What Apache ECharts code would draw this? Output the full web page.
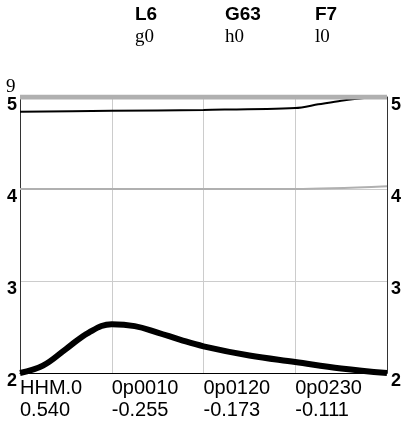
<!DOCTYPE html>
<html><head><meta charset="utf-8">
<script src="https://cdn.jsdelivr.net/npm/echarts@6/dist/echarts.min.js"></script>
<style>html,body{margin:0;padding:0;background:#fff}#c{width:406px;height:424px}</style>
</head><body><div id="c"></div>
<script>
var xTicks = [0, 1, 2, 3, 4];
var xTop = ['HHM.0', '0p0010', '0p0120', '0p0230', ''];
var xBottom = ['0.540', '-0.255', '-0.173', '-0.111', ''];
var legendNames = ['L6', 'G63', 'F7'];
var legendSubs = ['g0', 'h0', 'l0'];
var thickX = [0, 0.25, 0.5, 0.75, 1, 1.25, 1.5, 1.75, 2, 2.5, 3, 3.5, 4];
var thickBlack = [2.0, 2.08, 2.26, 2.44, 2.53, 2.51, 2.44, 2.36, 2.29, 2.19, 2.12, 2.05, 2.0];
var thinX = [0, 1, 2, 3, 3.25, 3.5, 3.75, 4];
var thinBlack = [4.84, 4.85, 4.86, 4.88, 4.92, 4.96, 4.99, 5.0];
var grayX = [0, 1, 2, 3, 4];
var grayLine = [4.0, 4.0, 4.0, 4.0, 4.03];
var topX = [0, 4];
var topGray = [5, 5];

function pairs(xs, v){ return xs.map(function(x,i){ return [x, v[i]]; }); }
var subMap = {};
legendNames.forEach(function(n,i){ subMap[n] = legendSubs[i]; });

var chart = echarts.init(document.getElementById('c'));
function yLabel(m){ return {margin:m, color:'#000', fontWeight:'bold', fontSize:18, lineHeight:16, fontFamily:'Liberation Sans, Arial', verticalAlign:'top'}; }
chart.setOption({
  animation:false,
  grid:{left:20, right:19, top:97, bottom:51},
  legend:{
    data: legendNames, left:130, top:5, width:300, icon:'none', itemWidth:0, itemGap:0, padding:0,
    formatter:function(n){ return '{a|'+n+'}\n{b|'+subMap[n]+'}'; },
    textStyle:{rich:{
      a:{fontFamily:'Liberation Sans, Arial', fontWeight:'bold', fontSize:19, color:'#000', width:85, lineHeight:23},
      b:{fontFamily:'Liberation Serif, Times New Roman', fontSize:19, color:'#000', width:85, lineHeight:23}
    }}
  },
  xAxis:{type:'value', min:0, max:4, interval:1,
    axisLine:{show:true, lineStyle:{color:'#000'}}, axisTick:{show:false},
    splitLine:{show:true, lineStyle:{color:'#ccc'}},
    axisLabel:{align:'left', margin:4, color:'#000', fontSize:20, fontFamily:'Liberation Sans, Arial', lineHeight:22,
      formatter:function(v){ var i = xTicks.indexOf(v); return (i>=0 && xTop[i]) ? xTop[i]+'\n'+xBottom[i] : ''; }}
  },
  yAxis:[
    {type:'value', min:2, max:5, interval:1, position:'left', name:'9',
      nameGap:-2, nameTextStyle:{fontFamily:'Liberation Serif, Times New Roman', fontSize:19, color:'#000', align:'left', padding:[0,0,0,-14]},
      axisLine:{show:true, lineStyle:{color:'#333'}}, axisTick:{show:false},
      splitLine:{show:true, lineStyle:{color:'#ccc'}},
      axisLabel:yLabel(3)},
    {type:'value', min:2, max:5, interval:1, position:'right',
      axisLine:{show:true, lineStyle:{color:'#333'}}, axisTick:{show:false},
      splitLine:{show:false},
      axisLabel:yLabel(4)}
  ],
  series:[
    {name:'G63', type:'line', data:pairs(grayX, grayLine), symbol:'none', smooth:0.3, lineStyle:{color:'#b0b0b0', width:2}, itemStyle:{color:'#b0b0b0'}},
    {name:'F7', type:'line', data:pairs(thinX, thinBlack), symbol:'none', smooth:0.3, lineStyle:{color:'#000', width:2}, itemStyle:{color:'#000'}},
    {name:'L6', type:'line', data:pairs(topX, topGray), symbol:'none', lineStyle:{color:'#b0b0b0', width:5}, itemStyle:{color:'#b0b0b0'}},
    {name:'thick', type:'line', data:pairs(thickX, thickBlack), symbol:'none', smooth:0.4, lineStyle:{color:'#000', width:6}, itemStyle:{color:'#000'}}
  ]
});
</script></body></html>
